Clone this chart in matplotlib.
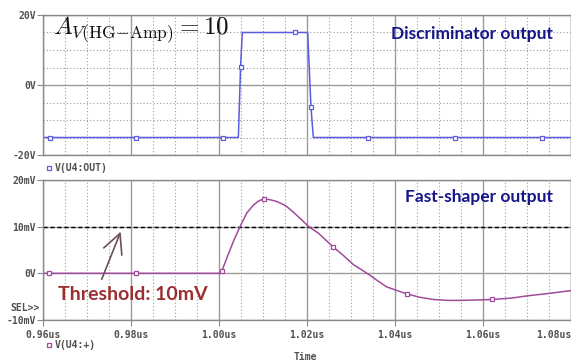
import matplotlib
matplotlib.use("Agg")
import matplotlib.pyplot as plt
from matplotlib.ticker import MultipleLocator, FixedLocator

# discriminator output V(U4:OUT), volts vs time in us
disc_t = [0.960, 0.9616, 0.9811, 1.0009, 1.0044, 1.0049, 1.0053, 1.0173,
          1.02015, 1.0209, 1.02143, 1.0339, 1.0536, 1.0734, 1.080]
disc_v = [-15, -15, -15, -15, -15, 5.2, 15, 15,
          15, -6.2, -15, -15, -15, -15, -15]
disc_marks = [1, 2, 3, 5, 7, 9, 11, 12, 13]

# fast-shaper output V(U4:+), mV vs time in us
shp_t = [0.960, 0.9614, 0.9811, 1.0000, 1.0006, 1.00175, 1.00325, 1.00477,
         1.0063, 1.0078, 1.0090, 1.0096, 1.0103, 1.0115, 1.0131, 1.0145,
         1.0154, 1.0168, 1.0184, 1.0204, 1.0226, 1.0260, 1.0283, 1.0305,
         1.0325, 1.0343, 1.0362, 1.0381, 1.0405, 1.0427, 1.0455, 1.0487,
         1.0520, 1.0548, 1.0593, 1.0620, 1.0665, 1.0703, 1.0750, 1.0800]
shp_v = [0, 0, 0, 0, 0.4, 3.2, 6.8, 10.0,
         12.9, 14.6, 15.5, 15.75, 15.9, 15.8, 15.4, 14.8,
         14.3, 13.2, 11.8, 10.0, 8.6, 5.6, 3.8, 1.9,
         0.7, -0.4, -1.7, -2.9, -3.7, -4.4, -5.1, -5.6,
         -5.8, -5.8, -5.7, -5.6, -5.3, -4.8, -4.3, -3.7]
shp_marks = [1, 2, 4, 12, 21, 29, 35]

threshold_mv = 10
x_ticks = [0.96, 0.98, 1.00, 1.02, 1.04, 1.06, 1.08]
x_labels = ["0.96us", "0.98us", "1.00us", "1.02us", "1.04us", "1.06us", "1.08us"]
top_ticks = [-20, 0, 20]
top_labels = ["-20V", "0V", "20V"]
bot_ticks = [-10, 0, 10, 20]
bot_labels = ["-10mV", "0V", "10mV", "20mV"]

W, H = 571, 362
GRID = "#9c9c9c"
MONO = "DejaVu Sans Mono"
TICKC = "#505050"
DISC_C = "#5c5ce0"
SHP_C = "#a04a9c"

plt.rcParams["mathtext.fontset"] = "cm"

fig = plt.figure(figsize=(W / 100, H / 100), dpi=100)
fig.patch.set_facecolor("white")


def px_axes(x0, y0, x1, y1):
    return fig.add_axes([x0 / W, 1 - y1 / H, (x1 - x0) / W, (y1 - y0) / H])


def style(ax):
    ax.set_xlim(0.96, 1.08)
    ax.xaxis.set_major_locator(FixedLocator(x_ticks))
    ax.xaxis.set_minor_locator(MultipleLocator(0.005))
    ax.grid(True, which="major", axis="x", color=GRID, lw=1.0, ls="-")
    ax.grid(True, which="minor", axis="x", color=GRID, lw=0.8, ls=(0, (1, 2)))
    ax.set_axisbelow(True)
    for s in ax.spines.values():
        s.set_color("#8a8a8a")
        s.set_linewidth(1.0)
    ax.tick_params(axis="both", which="major", length=4, color="#8a8a8a",
                   labelsize=7, labelcolor=TICKC, pad=1)
    ax.tick_params(axis="x", which="minor", length=0)
    for lab in ax.get_yticklabels():
        lab.set_family(MONO)
        lab.set_fontweight("bold")


# top panel
ax1 = px_axes(43, 15, 571, 155)
ax1.set_ylim(-20, 20)
ax1.yaxis.set_major_locator(FixedLocator(top_ticks))
ax1.set_yticklabels(top_labels)
ax1.yaxis.set_minor_locator(MultipleLocator(5))
ax1.grid(True, which="major", axis="y", color=GRID, lw=1.0)
ax1.grid(True, which="minor", axis="y", color=GRID, lw=0.8, ls=(0, (1, 2)))
ax1.tick_params(axis="y", which="minor", length=0)
ax1.plot(disc_t, disc_v, color=DISC_C, lw=1.1, marker="s", ms=3.5,
         mfc="white", mec=DISC_C, mew=0.9, markevery=disc_marks)
style(ax1)
ax1.tick_params(axis="x", labelbottom=False, length=0)

# bottom panel
ax2 = px_axes(43, 180, 571, 320)
ax2.set_ylim(-10, 20)
ax2.yaxis.set_major_locator(FixedLocator(bot_ticks))
ax2.set_yticklabels(bot_labels)
ax2.grid(True, which="major", axis="y", color=GRID, lw=1.0)
ax2.axhline(threshold_mv, color="black", lw=1.0, ls=(0, (3, 2)))
ax2.plot(shp_t, shp_v, color=SHP_C, lw=1.1, marker="s", ms=3.5,
         mfc="white", mec=SHP_C, mew=0.9, markevery=shp_marks)
ax2.set_xticklabels(x_labels)
style(ax2)
ax2.tick_params(axis="x", pad=3)
for lab in ax2.get_xticklabels():
    lab.set_family(MONO)
    lab.set_fontweight("bold")
ax2.get_xticklabels()[-1].set_ha("right")

ax2.annotate("", xy=(0.97766, 8.92), xytext=(0.97334, -1.28),
             arrowprops=dict(arrowstyle="->,head_length=0.7,head_width=0.35",
                             color="#6a4f5a", lw=1.2, mutation_scale=20,
                             shrinkA=0, shrinkB=0))

# trace names, PSpice style
fig.add_artist(plt.Line2D([49 / W], [1 - 168 / H], marker="s", ms=3.5,
                          mfc="white", mec=DISC_C, mew=0.9, transform=fig.transFigure))
fig.text(55 / W, 1 - 168 / H, "V(U4:OUT)", family=MONO, fontsize=7,
         fontweight="bold", color=TICKC, va="center")
fig.add_artist(plt.Line2D([49 / W], [1 - 345 / H], marker="s", ms=3.5,
                          mfc="white", mec=SHP_C, mew=0.9, transform=fig.transFigure))
fig.text(55 / W, 1 - 345 / H, "V(U4:+)", family=MONO, fontsize=7,
         fontweight="bold", color=TICKC, va="center")
fig.text(40 / W, 1 - 308 / H, "SEL>>", family=MONO, fontsize=7,
         fontweight="bold", color=TICKC, va="center", ha="right")
fig.text(305 / W, 1 - 357 / H, "Time", family=MONO, fontsize=7,
         fontweight="bold", color=TICKC, va="center", ha="center")

# annotations
fig.text(53 / W, 1 - 30 / H, r"$A_{V(\mathrm{HG{-}Amp})} = 10$", fontsize=18,
         color="#111111", va="center", ha="left")
fig.text(553 / W, 1 - 34 / H, "Discriminator output", family="Lato",
         fontweight="bold", fontsize=12.5, color="#16168a", va="center", ha="right")
fig.text(553 / W, 1 - 197 / H, "Fast-shaper output", family="Lato",
         fontweight="bold", fontsize=12.5, color="#16168a", va="center", ha="right")
fig.text(58 / W, 1 - 295 / H, "Threshold: 10mV", family="Lato",
         fontweight="bold", fontsize=14, color="#9b2f2f", va="center", ha="left")

fig.savefig("out.png", dpi=100, facecolor="white")
